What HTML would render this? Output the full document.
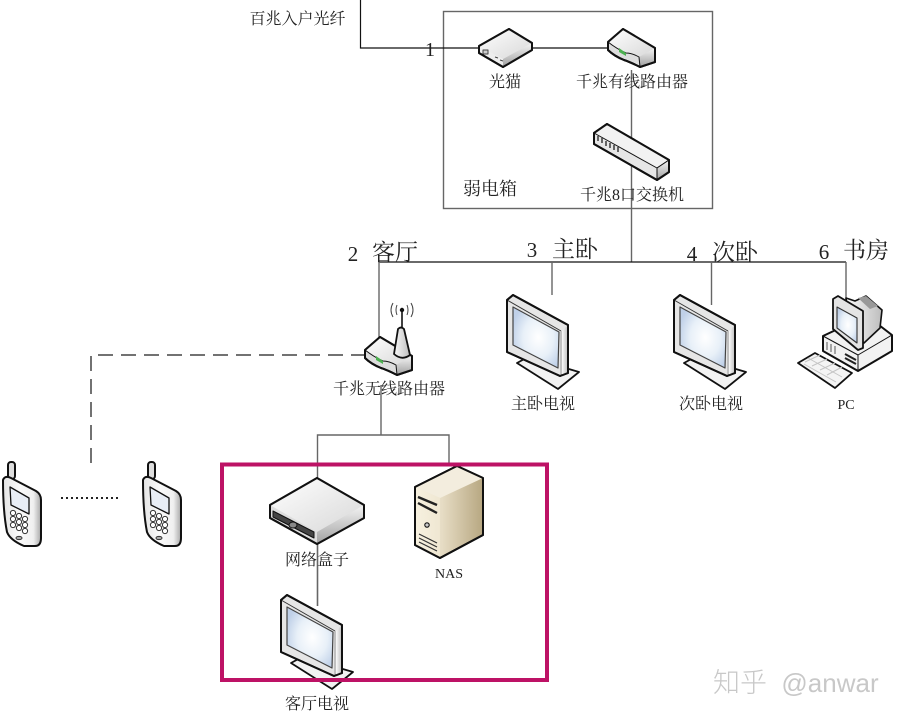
<!DOCTYPE html>
<html><head><meta charset="utf-8">
<style>
html,body{margin:0;padding:0;background:#fff;width:903px;height:719px;overflow:hidden}
svg{display:block}
text{font-family:"Liberation Serif","Noto Serif CJK SC",serif;fill:#222;font-size:16px;text-anchor:middle}
.s{font-family:"Liberation Sans","Noto Sans CJK SC",sans-serif;font-weight:300}
</style></head><body>
<svg width="903" height="719" viewBox="0 0 903 719" xmlns="http://www.w3.org/2000/svg">
<defs>
<linearGradient id="g1" x1="0" y1="0" x2="1" y2="1"><stop offset="0" stop-color="#fff"/><stop offset="1" stop-color="#d8d8d8"/></linearGradient>
<linearGradient id="g2" x1="0" y1="0" x2="0" y2="1"><stop offset="0" stop-color="#f4f4f4"/><stop offset="1" stop-color="#a0a0a0"/></linearGradient>
<linearGradient id="g3" x1="0" y1="0" x2="1" y2="0"><stop offset="0" stop-color="#e4e4e4"/><stop offset=".45" stop-color="#fafafa"/><stop offset=".8" stop-color="#f0f0f0"/><stop offset="1" stop-color="#a8a8a8"/></linearGradient>
<linearGradient id="g4" x1="0" y1="0" x2="1" y2="0"><stop offset="0" stop-color="#fafafa"/><stop offset="1" stop-color="#bdbdbd"/></linearGradient>
<radialGradient id="scr" cx=".55" cy=".5" r=".6"><stop offset="0" stop-color="#ffffff"/><stop offset=".55" stop-color="#e8f0f8"/><stop offset="1" stop-color="#bfd0e8"/></radialGradient>
<linearGradient id="n1" x1="0" y1="0" x2="1" y2="0"><stop offset="0" stop-color="#f7f1e0"/><stop offset="1" stop-color="#efe7d2"/></linearGradient>
<linearGradient id="n2" x1="0" y1="0" x2="1" y2="0"><stop offset="0" stop-color="#f6f1e4"/><stop offset=".4" stop-color="#e6dcc4"/><stop offset="1" stop-color="#b7a781"/></linearGradient>
<g id="mon" stroke="#111" stroke-linejoin="round">
<path d="M10 68 L21 62 L72 77 L51 94 Z" fill="#f2f2f2" stroke-width="1.8"/>
<path d="M0 5 L6 0 L61 30 L61 78 L53 81 L0 57 Z" fill="#e6e6e6" stroke-width="2"/>
<path d="M55 36 L61 30 L61 78 L55 80 Z" fill="url(#g4)" stroke="none"/>
<path d="M0 5 L54 36" stroke="#333" stroke-width="1" fill="none"/>
<path d="M54 36 L54 80" stroke="#999" stroke-width="1" fill="none"/>
<path d="M6 12 L52 37 L51 73 L6 50 Z" fill="url(#scr)" stroke="#444" stroke-width="1.2"/>
<path d="M0 5 L6 0 L61 30 L61 78 L53 81 L0 57 Z" fill="none" stroke-width="2"/>
</g>
<g id="router" stroke="#111" stroke-linejoin="round">
<path d="M0 13 L15 0 L47 19 L47 33 L32 38 Q22 33 16 31 Q6 27 0 21 Z" fill="#ddd" stroke-width="2"/>
<path d="M0 13 L15 0 L47 19 L31 28 Q24 24 18 24 Q9 20 0 13 Z" fill="url(#g1)" stroke="none"/>
<path d="M31 28 L47 19 L47 33 L32 38 Z" fill="url(#g2)" stroke="none"/>
<path d="M0 13 Q9 20 18 24 Q24 24 31 28 L32 38" fill="none" stroke-width="1"/>
<path d="M11 19 L18 24 L18 27 L11 23 Z" fill="#4cb050" stroke="none"/>
<path d="M0 13 L15 0 L47 19 L47 33 L32 38 Q22 33 16 31 Q6 27 0 21 Z" fill="none" stroke-width="2"/>
</g>
<g id="phone" stroke="#111" stroke-linejoin="round">
<rect x="6" y="0" width="7" height="17" rx="3" fill="#ddd" stroke-width="2"/>
<path d="M1 18 Q3 13 9 16 L34 29 Q39 32 39 38 L39 76 Q39 84 33 84 L22 84 Q8 78 5 70 Q1 50 1 18 Z" fill="url(#g3)" stroke-width="2"/>
<path d="M8 25 L27 36 L27 52 L9 43 Z" fill="#e8edf5" stroke-width="1.3"/>
<g fill="#fff" stroke="#333" stroke-width="1">
<circle cx="11" cy="51" r="2.6"/><circle cx="17" cy="54" r="2.6"/><circle cx="23" cy="57" r="2.6"/>
<circle cx="11" cy="57" r="2.6"/><circle cx="17" cy="60" r="2.6"/><circle cx="23" cy="63" r="2.6"/>
<circle cx="11" cy="63" r="2.6"/><circle cx="17" cy="66" r="2.6"/><circle cx="23" cy="69" r="2.6"/>
<ellipse cx="17" cy="76" rx="3" ry="1.6" fill="#aaa"/>
</g>
</g>
</defs>
<rect width="903" height="719" fill="#fff"/>

<!-- weak-current box -->
<rect x="443.5" y="11.5" width="269" height="197" fill="none" stroke="#666" stroke-width="1.4"/>

<!-- connectors -->
<g fill="none" stroke-width="1.2">
<path d="M360.5 0 V48 H480 M532 48 H610" stroke="#111"/>
<path d="M631.5 70 V262" stroke="#666" stroke-width="1.4"/>
<path d="M379 262 H846" stroke="#111"/>
<path d="M379 262 V342 M552 262 V295 M711.5 262 V305 M846 262 V300" stroke="#666" stroke-width="1.4"/>
<path d="M381 385 V435 M317.5 480 V435 H449 V466" stroke="#666" stroke-width="1.4"/>
<path d="M317.5 530 V606" stroke="#666" stroke-width="1.6"/>
<path d="M91 463 V355 H366" stroke="#444" stroke-width="1.5" stroke-dasharray="15 8"/>
<path d="M61 498 H121" stroke="#222" stroke-width="2" stroke-dasharray="2 3"/>
</g>

<!-- modem -->
<g stroke="#111" stroke-linejoin="round">
<path d="M479 46 L509 29 L532 43 L532 50 L503 67 L479 53 Z" fill="#eee" stroke-width="2"/>
<path d="M479 46 L509 29 L532 43 L503 59 Z" fill="url(#g1)" stroke="none"/>
<path d="M503 59 L532 43 L532 50 L503 67 Z" fill="url(#g2)" stroke="none"/>
<path d="M483 50 H488 V54 H483 Z M495 57 L498 58 M500 60 L503 61" stroke="#444" stroke-width="1" fill="#ccc"/>
<path d="M479 46 L509 29 L532 43 L532 50 L503 67 L479 53 Z" fill="none" stroke-width="2"/>
</g>
<use href="#router" x="608" y="29"/>

<!-- switch -->
<g stroke="#111" stroke-linejoin="round">
<path d="M594 133 L607 124 L669 160 L669 172 L657 180 L594 144 Z" fill="#e6e6e6" stroke-width="2"/>
<path d="M594 133 L607 124 L669 160 L657 168 Z" fill="#f2f2f2" stroke-width="1"/>
<path d="M657 168 L669 160 L669 172 L657 180 Z" fill="url(#g2)" stroke-width="1"/>
<path d="M598 141 V136 M602 143 V138 M606 146 V141 M610 148 V143 M614 150 V145 M618 152 V147" stroke="#444" stroke-width="1.6"/>
<path d="M594 133 L607 124 L669 160 L669 172 L657 180 L594 144 Z" fill="none" stroke-width="2"/>
</g>

<!-- wireless router -->
<g stroke="#111" stroke-linejoin="round">
<path d="M392 350 L412 358 L412 365 L398 373 L385 365 Z" fill="#e0e0e0" stroke-width="1.8"/>
</g>
<use href="#router" x="365" y="337"/>
<g stroke="#111" stroke-linejoin="round">
<path d="M394 354 L398 329 Q401 326 404 329 L410 355 Q402 361 394 354 Z" fill="url(#g4)" stroke-width="1.8"/>
<path d="M402 327 V311" stroke-width="1.6"/>
<circle cx="402" cy="310" r="1.7" fill="#111"/>
<path d="M397 305 Q395 310 397 315 M407 305 Q409 310 407 315 M393 303 Q389 310 393 317 M411 303 Q415 310 411 317" fill="none" stroke="#444" stroke-width="1"/>
</g>

<!-- monitors -->
<use href="#mon" x="507" y="295"/>
<use href="#mon" x="674" y="295"/>
<use href="#mon" x="281" y="595"/>

<!-- PC -->
<g stroke="#111" stroke-linejoin="round">
<path d="M823 336 L840 328 L875 322 L892 335 L892 351 L858 371 L823 351 Z" fill="#f2f2f2" stroke-width="2"/>
<path d="M823 336 L858 355 L892 335 M858 355 V371" fill="none" stroke-width="1"/>
<path d="M827 342 V350 M831 344 V352 M835 346 V354" stroke="#555" stroke-width="1"/>
<path d="M845 354 L856 360 M845 358 L856 364" stroke="#222" stroke-width="2"/>
<path d="M846 298 L855 301 L866 296 L882 310 L880 328 L864 343 L850 332 Z" fill="url(#g4)" stroke-width="1.6"/>
<path d="M858 298 L866 296 L878 306 L870 309 Z" fill="#999" stroke="none"/>
<path d="M833 299 L838 296 L863 311 L863 348 L858 350 L833 329 Z" fill="#e4e4e4" stroke-width="1.8"/>
<path d="M837 307 L857 318 L857 343 L837 328 Z" fill="url(#scr)" stroke="#333" stroke-width="1.1"/>
<path d="M798 363 L815 353 L852 373 L835 388 Z" fill="#f4f4f4" stroke-width="1.8"/>
<path d="M805 362 L820 355 M812 366 L827 359 M820 370 L835 363 M827 375 L842 367 M808 358 L842 377 M804 364 L836 382" stroke="#c4c4c4" stroke-width="1"/>
</g>

<!-- phones -->
<use href="#phone" x="2" y="462"/>
<use href="#phone" x="142" y="462"/>

<!-- set-top box -->
<g stroke="#111" stroke-linejoin="round">
<path d="M270 505 L317 478 L364 505 L364 518 L317 544 L270 518 Z" fill="#ddd" stroke-width="2"/>
<path d="M270 505 L317 478 L364 505 L317 532 Z" fill="url(#g1)" stroke="none"/>
<path d="M317 532 L364 505 L364 518 L317 544 Z" fill="url(#g2)" stroke="none"/>
<path d="M273 511 L314 532 L314 538 L273 517 Z" fill="#444" stroke-width="1"/>
<ellipse cx="293" cy="525" rx="4" ry="3" fill="#888" stroke-width="1"/>
<path d="M270 505 L317 478 L364 505 L364 518 L317 544 L270 518 Z" fill="none" stroke-width="2"/>
</g>

<!-- NAS -->
<g stroke="#111" stroke-linejoin="round">
<path d="M415 487 L457 466 L483 478 L483 535 L440 558 L415 545 Z" fill="url(#n2)" stroke-width="2"/>
<path d="M415 487 L457 466 L483 478 L440 498 Z" fill="#f3edde" stroke="none"/>
<path d="M415 487 L440 498 L440 558 L415 545 Z" fill="url(#n1)" stroke="none"/>
<path d="M418 497 L437 505 M418 503 L437 513" stroke="#222" stroke-width="2.4" fill="none"/>
<path d="M419 534 L437 543 M419 538 L437 547 M419 542 L437 551" stroke="#333" stroke-width="1.2" fill="none"/>
<circle cx="427" cy="525" r="2.2" fill="#ccc" stroke-width="1.1"/>
<path d="M415 487 L457 466 L483 478 L483 535 L440 558 L415 545 Z" fill="none" stroke-width="2"/>
</g>

<!-- highlight rectangle -->
<rect x="222" y="464.5" width="325" height="215.5" fill="none" stroke="#bd1265" stroke-width="4"/>

<!-- labels -->
<text x="297.500" y="24">百兆入户光纤</text>
<text x="430" y="56" style="font-size:20px">1</text>
<text x="505" y="87">光猫</text>
<text x="632" y="87">千兆有线路由器</text>
<text x="490" y="195" style="font-size:18px">弱电箱</text>
<text x="632" y="200">千兆8口交换机</text>
<text x="353" y="261" style="font-size:21px">2</text>
<text x="395" y="260" style="font-size:23px">客厅</text>
<text x="532" y="257" style="font-size:21px">3</text>
<text x="575" y="257" style="font-size:23px">主卧</text>
<text x="692" y="261" style="font-size:21px">4</text>
<text x="735" y="260" style="font-size:23px">次卧</text>
<text x="824" y="259" style="font-size:21px">6</text>
<text x="866" y="258" style="font-size:23px">书房</text>
<text x="389" y="394">千兆无线路由器</text>
<text x="543" y="409">主卧电视</text>
<text x="711" y="409">次卧电视</text>
<text x="846" y="409" style="font-size:14px">PC</text>
<text x="317" y="565">网络盒子</text>
<text x="449" y="578" style="font-size:14px">NAS</text>
<text x="317" y="709">客厅电视</text>
<text class="s" x="740" y="692" style="font-size:27px;fill:#c8c8c8">知乎</text>
<text class="s" x="830" y="692" style="font-size:26px;fill:#c8c8c8">@anwar</text>
</svg>
</body></html>
